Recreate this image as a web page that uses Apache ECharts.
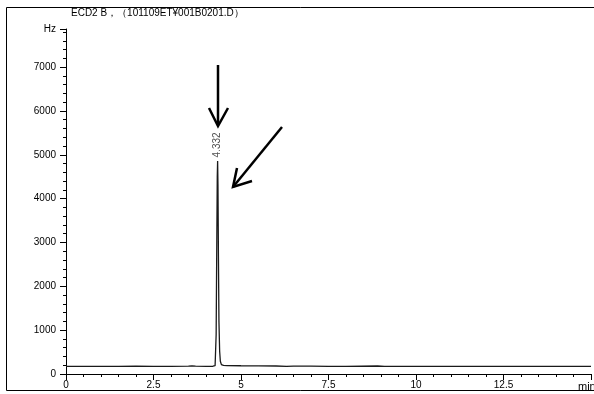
<!DOCTYPE html>
<html>
<head>
<meta charset="utf-8">
<script src="https://cdn.jsdelivr.net/npm/echarts@6/dist/echarts.min.js"></script>
<style>
html,body{margin:0;padding:0;background:#fff;}
#chart{width:594px;height:394px;}
</style>
</head>
<body>
<div id="chart"></div>
<script>
// Chromatogram trace: retention time (min) and signal (Hz)
var times = [0, 0.5, 1, 1.5, 2, 2.5, 3, 3.5, 3.6, 3.7, 4, 4.2, 4.26, 4.29, 4.31, 4.322, 4.332, 4.342, 4.355, 4.37, 4.39, 4.41, 4.44, 4.5, 4.6, 5, 5.5, 6, 6.3, 6.5, 7, 7.5, 8, 8.9, 9.1, 9.3, 10, 11, 12, 13, 14, 15];
var hz =    [172, 174, 173, 175, 177, 175, 176, 178, 186, 178, 176, 177, 190, 900, 3200, 4500, 4860, 4300, 2700, 1200, 520, 290, 215, 196, 190, 188, 186, 182, 172, 180, 178, 176, 175, 183, 176, 175, 175, 174, 175, 175, 174, 175];
var peakTime = 4.332;
var peakLabel = "4.332";
var yTicks = [0, 1000, 2000, 3000, 4000, 5000, 6000, 7000];
var xTicks = [0, 2.5, 5, 7.5, 10, 12.5];
var yMax = 7870;
var xMax = 15;
var titleText = "ECD2 B，（101109ET¥001B0201.D）";
var yUnit = "Hz";
var xUnit = "min";

var font = "'Liberation Sans', Arial, sans-serif";
var seriesData = times.map(function (t, i) { return [t, hz[i]]; });
var peakValue = hz[times.indexOf(peakTime)];

var chart = echarts.init(document.getElementById('chart'), null, { renderer: 'canvas' });
chart.setOption({
  animation: false,
  backgroundColor: '#fff',
  grid: { left: 66, right: -2, top: 29, bottom: 20, containLabel: false },
  xAxis: {
    type: 'value', min: 0, max: xMax, interval: 2.5,
    axisLine: { show: true, onZero: false, lineStyle: { color: '#000', width: 1 } },
    axisTick: { show: true, inside: false, length: 6, lineStyle: { color: '#000' } },
    minorTick: { show: true, splitNumber: 5, length: 3, lineStyle: { color: '#000' } },
    splitLine: { show: false },
    axisLabel: {
      margin: 6, fontSize: 10, color: '#000', fontFamily: font,
      formatter: function (v) { return xTicks.indexOf(v) >= 0 ? String(v) : ''; }
    }
  },
  yAxis: {
    type: 'value', min: 0, max: yMax, interval: 1000,
    axisLine: { show: true, lineStyle: { color: '#000', width: 1 } },
    axisTick: { show: true, inside: false, length: 6, lineStyle: { color: '#000' } },
    minorTick: { show: true, splitNumber: 5, length: 3, lineStyle: { color: '#000' } },
    splitLine: { show: false },
    axisLabel: {
      margin: 10, fontSize: 10, color: '#000', fontFamily: font,
      formatter: function (v) { return yTicks.indexOf(v) >= 0 ? String(v) : (v === yMax ? yUnit : ''); }
    }
  },
  series: [{
    type: 'line', data: seriesData, showSymbol: false, symbol: 'none',
    lineStyle: { color: '#1a1a1a', width: 1.3 }, z: 3
  }, {
    type: 'scatter', data: [[peakTime, peakValue]], symbolSize: 1,
    itemStyle: { color: 'rgba(0,0,0,0)' }, z: 4,
    label: {
      show: true, formatter: peakLabel, position: 'top', rotate: 90,
      align: 'left', verticalAlign: 'middle', distance: 1, offset: [2, 0],
      fontSize: 10, color: '#222', fontFamily: font
    }
  }],
  graphic: [
    { type: 'rect', shape: { x: 6.5, y: 7.5, width: 600, height: 383 },
      style: { fill: 'none', stroke: '#000', lineWidth: 1 }, z: 10, silent: true },
    { type: 'text', left: 71, top: 8, style: { text: titleText, fontSize: 10, fill: '#000', fontFamily: font }, z: 11 },
    { type: 'text', left: 578, top: 381, style: { text: xUnit, fontSize: 11, fill: '#000', fontFamily: font }, z: 11 },
    // annotation arrows
    { type: 'polyline', shape: { points: [[218, 65], [218, 125]] }, style: { stroke: '#000', lineWidth: 2.5, fill: 'none' }, z: 12 },
    { type: 'polyline', shape: { points: [[209, 108], [218, 126], [228, 108]] }, style: { stroke: '#000', lineWidth: 2.5, fill: 'none' }, z: 12 },
    { type: 'polyline', shape: { points: [[282, 127], [233, 187]] }, style: { stroke: '#000', lineWidth: 2.5, fill: 'none' }, z: 12 },
    { type: 'polyline', shape: { points: [[237, 168], [233, 187], [252, 181]] }, style: { stroke: '#000', lineWidth: 2.5, fill: 'none' }, z: 12 }
  ]
});
</script>
</body>
</html>
